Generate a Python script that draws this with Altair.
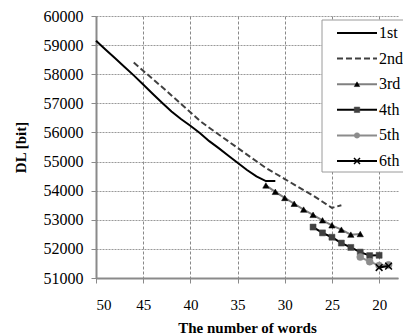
import altair as alt
import pandas as pd

# ---- data ----
series_names = ["1st", "2nd", "3rd", "4th", "5th", "6th"]

x_1st = list(range(50, 30, -1))
y_1st = [59150, 58850, 58560, 58260, 57960, 57650, 57330, 57020, 56720, 56460,
         56230, 55980, 55700, 55460, 55210, 54960, 54710, 54490, 54330, 54330]

x_2nd = list(range(46, 23, -1))
y_2nd = [58400, 58120, 57840, 57560, 57270, 56980, 56690, 56400, 56160, 55930,
         55700, 55470, 55240, 55010, 54780, 54590, 54400, 54210, 54020, 53830,
         53620, 53410, 53500]

x_3rd = list(range(32, 21, -1))
y_3rd = [54180, 53960, 53750, 53550, 53350, 53170, 52980, 52810, 52660, 52490, 52510]

x_4th = list(range(27, 19, -1))
y_4th = [52750, 52550, 52400, 52200, 52050, 51890, 51770, 51780]

x_5th = [22, 21, 20, 19]
y_5th = [51720, 51560, 51430, 51450]

x_6th = [20, 19]
y_6th = [51360, 51410]

x_ticks = [50, 45, 40, 35, 30, 25, 20]
y_ticks = [51000, 52000, 53000, 54000, 55000, 56000, 57000, 58000, 59000, 60000]

xs_all = [x_1st, x_2nd, x_3rd, x_4th, x_5th, x_6th]
ys_all = [y_1st, y_2nd, y_3rd, y_4th, y_5th, y_6th]

# ---- styles ----
line_colors = ["#000000", "#404040", "#808080", "#000000", "#8c8c8c", "#000000"]
line_dash = [None, [6, 3], None, None, None, None]
marker_shape = [None, None, "triangle-up", "square", "circle", "M-1,-1L1,1M1,-1L-1,1"]
marker_color = [None, None, "#000000", "#404040", "#8c8c8c", "#000000"]
marker_size = [None, None, 40, 36, 50, 45]

FONT = "Liberation Serif"
W, H = 302, 262

xscale = alt.Scale(domain=[18, 50], reverse=True, nice=False, zero=False)
yscale = alt.Scale(domain=[51000, 60000], nice=False, zero=False)

xaxis = alt.Axis(values=x_ticks, title="The number of words", grid=True,
                 gridColor="#888888", gridDash=[3, 2], gridWidth=1, gridOpacity=1,
                 domainColor="#8a8a8a", domainWidth=2, tickColor="#8a8a8a",
                 tickSize=5, labelFont=FONT, labelFontSize=15, labelColor="#000",
                 labelPadding=14, titleFont=FONT, titleFontSize=15,
                 titleFontWeight="bold", titleColor="#000", titleY=49,
                 titleBaseline="middle")
yaxis = alt.Axis(values=y_ticks, title="DL [bit]", grid=True, format="d",
                 gridColor="#999999", gridDash=[2, 1], gridWidth=1, gridOpacity=1,
                 domainColor="#8a8a8a", domainWidth=2, tickColor="#8a8a8a",
                 tickSize=5, labelFont=FONT, labelFontSize=16, labelColor="#000",
                 labelPadding=8, titleFont=FONT, titleFontSize=15,
                 titleFontWeight="bold", titleColor="#000", titleX=-76,
                 titleY=H / 2, titleBaseline="middle")

xenc = alt.X("words:Q", scale=xscale, axis=xaxis)
yenc = alt.Y("dl:Q", scale=yscale, axis=yaxis)

layers = []
for i, name in enumerate(series_names):
    d = pd.DataFrame({"words": xs_all[i], "dl": ys_all[i], "series": name})
    lk = dict(color=line_colors[i], strokeWidth=2)
    if line_dash[i]:
        lk["strokeDash"] = line_dash[i]
    layers.append(alt.Chart(d).mark_line(**lk).encode(x=xenc, y=yenc))
    if marker_shape[i]:
        pk = dict(shape=marker_shape[i], size=marker_size[i], opacity=1)
        if marker_shape[i].startswith("M"):
            pk.update(filled=False, stroke=marker_color[i], strokeWidth=1.5)
        else:
            pk.update(filled=True, fill=marker_color[i], stroke=marker_color[i],
                      strokeWidth=0.5)
        layers.append(alt.Chart(d).mark_point(**pk).encode(x=xenc, y=yenc))

# ---- legend drawn as marks (row index mapped onto the y scale) ----
leg_df = pd.DataFrame({"name": series_names, "row": list(range(len(series_names)))})
row_expr = "60000 - (17 + datum.row * 25.6) * 9000 / 262"

layers.append(alt.Chart(pd.DataFrame({"row": [0]})).mark_rect(
    fill="white", stroke="#9a9a9a", strokeWidth=1).encode(
    x=alt.value(226), x2=alt.value(330), y=alt.value(4), y2=alt.value(156)))
for i, name in enumerate(series_names):
    sub = alt.Chart(leg_df).transform_filter(alt.datum.name == name)
    lk = dict(color=line_colors[i], strokeWidth=2)
    if line_dash[i]:
        lk["strokeDash"] = line_dash[i]
    layers.append(sub.mark_rule(**lk).encode(
        x=alt.value(241), x2=alt.value(281),
        y=alt.Y("row:Q", scale=yscale, axis=yaxis)).transform_calculate(row=row_expr))
    if marker_shape[i]:
        pk = dict(shape=marker_shape[i], size=30, opacity=1)
        if marker_shape[i].startswith("M"):
            pk.update(filled=False, stroke=marker_color[i], strokeWidth=1.5, size=36)
        else:
            pk.update(filled=True, fill=marker_color[i], stroke=marker_color[i],
                      strokeWidth=0.5)
        layers.append(sub.mark_point(**pk).encode(
            x=alt.value(261),
            y=alt.Y("row:Q", scale=yscale, axis=yaxis)).transform_calculate(row=row_expr))
layers.append(alt.Chart(leg_df).mark_text(
    align="left", baseline="middle", font=FONT, fontSize=16, color="#000").encode(
    x=alt.value(283), y=alt.Y("row:Q", scale=yscale, axis=yaxis),
    text="name:N").transform_calculate(row=row_expr))

chart = alt.layer(*layers).properties(
    width=W, height=H,
    autosize=alt.AutoSizeParams(type="none"),
    padding={"left": 88, "top": 8, "right": 5, "bottom": 58},
).configure(font=FONT).configure_view(strokeWidth=0)

chart.save("out.html", embed_options={"renderer": "svg", "actions": False})
